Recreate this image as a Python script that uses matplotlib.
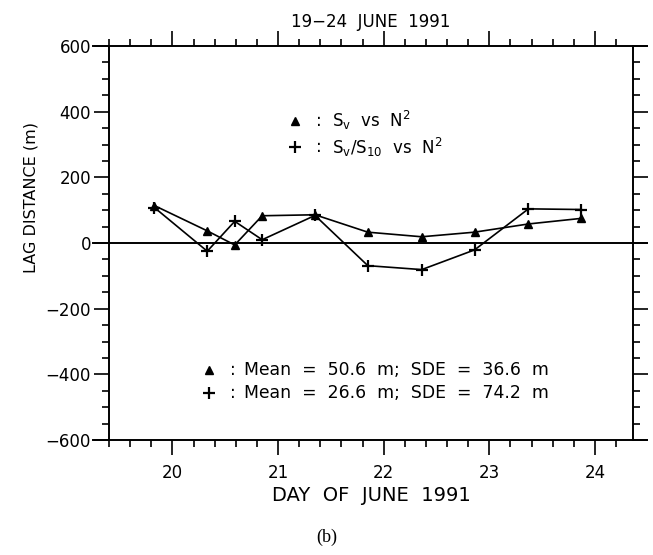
import matplotlib
matplotlib.use("Agg")
import matplotlib.pyplot as plt
from matplotlib.ticker import MultipleLocator

# data
days = [19.83, 20.33, 20.59, 20.85, 21.35, 21.85, 22.36, 22.86, 23.37, 23.87]
lagSv = [114, 37, -6, 83, 86, 33, 19, 33, 58, 75]
lagRatio = [108, -25, 66, 10, 84, -69, -81, -21, 104, 102]

xTicks = [20, 21, 22, 23, 24]
yTicks = [-600, -400, -200, 0, 200, 400, 600]
yTickLabels = ["\u2212600", "\u2212400", "\u2212200", "0", "200", "400", "600"]

svLabel = r"$\mathrm{S_v}$  vs  $\mathrm{N^2}$"
ratioLabel = r"$\mathrm{S_v/S_{10}}$  vs  $\mathrm{N^2}$"
svStats = "Mean  =  50.6  m;  SDE  =  36.6  m"
ratioStats = "Mean  =  26.6  m;  SDE  =  74.2  m"

plt.rcParams["font.family"] = "DejaVu Sans"
plt.rcParams["mathtext.fontset"] = "dejavusans"

fig = plt.figure(figsize=(6.53, 5.55), dpi=100)
ax = fig.add_axes([0.1669, 0.2072, 0.8025, 0.7099])

#the two series
ax.plot(days, lagRatio, color="black", lw=1.2, marker="+", ms=8.5, mew=1.6)
ax.plot(days, lagSv, color="black", lw=1.2, marker="^", ms=6)

ax.set_xlim(19.4, 24.36)
ax.set_ylim(-600, 600)

#top/bottom frame and zero line stick out past the side spines
ax.spines["top"].set_visible(False)
ax.spines["bottom"].set_visible(False)
for side in ["left", "right"]:
    ax.spines[side].set_linewidth(1.4)
for yv in [-600, 0, 600]:
    ax.plot([-0.031, 1.027], [yv, yv], color="black", lw=1.4,
            transform=ax.get_yaxis_transform(), clip_on=False)

ax.set_xticks(xTicks)
ax.set_yticks(yTicks)
ax.set_yticklabels(yTickLabels)
ax.xaxis.set_minor_locator(MultipleLocator(0.2))
ax.yaxis.set_minor_locator(MultipleLocator(50))
ax.tick_params(which="both", direction="out", top=True, right=True,
               width=1.2, labelsize=12)
ax.tick_params(which="major", length=11)
ax.tick_params(which="minor", length=5)
ax.tick_params(axis="x", pad=6)
ax.tick_params(axis="y", pad=2)

ax.set_title("19\u221224  JUNE  1991", fontsize=12, pad=14)
ax.set_xlabel("DAY  OF  JUNE  1991", fontsize=14, labelpad=3)
ax.set_ylabel("LAG DISTANCE (m)", fontsize=11.5)
ax.yaxis.set_label_coords(-0.135, 0.615)

#legend written as text, like the original
ax.plot([21.16], [372], marker="^", color="black", ms=6, clip_on=False)
ax.plot([21.16], [292], marker="+", color="black", ms=8.5, mew=1.6, clip_on=False)
ax.text(21.36, 372, ":", fontsize=12, va="center")
ax.text(21.36, 292, ":", fontsize=12, va="center")
ax.text(21.51, 372, svLabel, fontsize=12, va="center")
ax.text(21.51, 292, ratioLabel, fontsize=12, va="center")

ax.plot([20.35], [-387], marker="^", color="black", ms=6)
ax.plot([20.35], [-457], marker="+", color="black", ms=8.5, mew=1.6)
ax.text(20.55, -387, ":", fontsize=12, va="center")
ax.text(20.55, -457, ":", fontsize=12, va="center")
ax.text(20.68, -387, svStats, fontsize=12.4, va="center")
ax.text(20.68, -457, ratioStats, fontsize=12.4, va="center")

fig.text(0.5, 0.031, "(b)", fontsize=13, family="Liberation Serif",
         ha="center", va="center")

fig.savefig("out.png", dpi=100)
